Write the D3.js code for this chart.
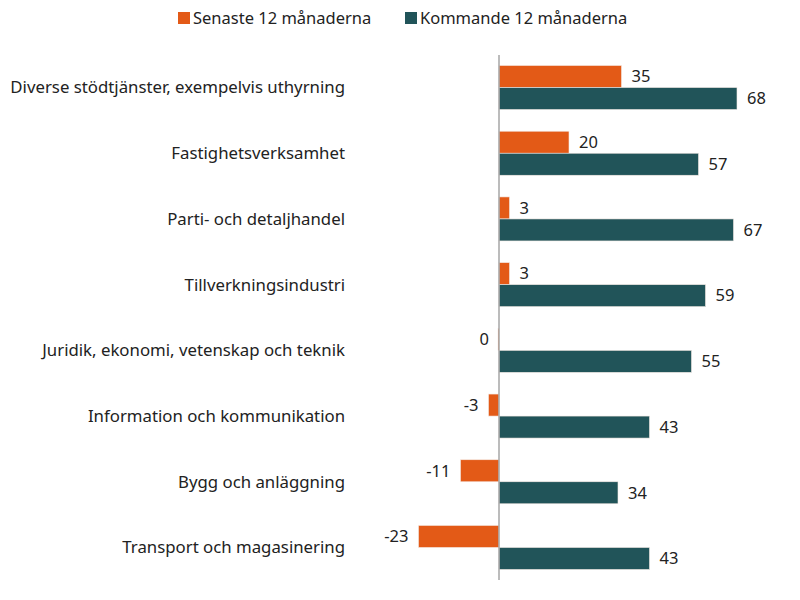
<!DOCTYPE html>
<html>
<head>
<meta charset="utf-8">
<script src="https://cdn.jsdelivr.net/npm/d3@7"></script>
<style>
  body { margin: 0; background: #fff; }
  text { font-family: "Noto Sans", "Open Sans", sans-serif; fill: #222; }
</style>
</head>
<body>
<div id="container"></div>
<script>
var categories = [
  "Diverse stödtjänster, exempelvis uthyrning",
  "Fastighetsverksamhet",
  "Parti- och detaljhandel",
  "Tillverkningsindustri",
  "Juridik, ekonomi, vetenskap och teknik",
  "Information och kommunikation",
  "Bygg och anläggning",
  "Transport och magasinering"
];
var seriesNames = ["Senaste 12 månaderna", "Kommande 12 månaderna"];
var senaste = [35, 20, 3, 3, 0, -3, -11, -23];
var kommande = [68, 57, 67, 59, 55, 43, 34, 43];
var colors = ["#e35a17", "#215459"];

var width = 800, height = 600;

var svg = d3.select("#container")
  .append("svg")
  .attr("width", width)
  .attr("height", height);

// 3.5 px per unit, zero at 499
var x = d3.scaleLinear()
  .domain([-23, 68])
  .range([499 - 23 * 3.5, 499 + 68 * 3.5]);

var y0 = d3.scaleBand()
  .domain(categories)
  .range([55, 580])
  .paddingInner(0.33)
  .paddingOuter(0.16);

var y1 = d3.scaleBand()
  .domain([0, 1])
  .range([0, y0.bandwidth()]);

var rows = categories.map(function(c, i) {
  return { cat: c, vals: [senaste[i], kommande[i]] };
});

var g = svg.selectAll("g.row")
  .data(rows)
  .enter()
  .append("g")
  .attr("class", "row")
  .attr("transform", function(d) { return "translate(0," + y0(d.cat) + ")"; });

g.selectAll("rect")
  .data(function(d) { return d.vals; })
  .enter()
  .append("rect")
  .attr("x", function(d) { return d === 0 ? x(0) - 1 : x(Math.min(0, d)); })
  .attr("y", function(d, i) { return y1(i); })
  .attr("width", function(d) { return Math.max(1, Math.abs(x(d) - x(0))); })
  .attr("height", y1.bandwidth())
  .style("fill", function(d, i) { return colors[i]; })
  .style("stroke", "#f4e9e4")
  .style("stroke-width", 0.6);

g.selectAll("text.val")
  .data(function(d) { return d.vals; })
  .enter()
  .append("text")
  .attr("class", "val")
  .attr("x", function(d) { return d <= 0 ? x(Math.min(0, d)) - 10 : x(d) + 10; })
  .attr("y", function(d, i) { return y1(i) + y1.bandwidth() / 2; })
  .attr("dy", "0.35em")
  .attr("text-anchor", function(d) { return d <= 0 ? "end" : "start"; })
  .style("font-size", "16.5px")
  .text(function(d) { return d; });

// category labels
svg.selectAll("text.cat")
  .data(categories)
  .enter()
  .append("text")
  .attr("class", "cat")
  .attr("x", 345)
  .attr("y", function(d) { return y0(d) + y0.bandwidth() / 2; })
  .attr("dy", "0.35em")
  .attr("text-anchor", "end")
  .style("font-size", "16.8px")
  .text(function(d) { return d; });

// zero line
svg.append("line")
  .attr("x1", x(0)).attr("x2", x(0))
  .attr("y1", 55).attr("y2", 580)
  .style("stroke", "#a6a6a6")
  .style("stroke-width", 1.5);

// legend
var legendX = [178, 405];
var lg = svg.selectAll("g.legend")
  .data(seriesNames)
  .enter()
  .append("g")
  .attr("class", "legend")
  .attr("transform", function(d, i) { return "translate(" + legendX[i] + ",12)"; });

lg.append("rect")
  .attr("width", 12).attr("height", 12)
  .style("fill", function(d, i) { return colors[i]; });

lg.append("text")
  .attr("x", 15)
  .attr("y", 6)
  .attr("dy", "0.35em")
  .style("font-size", "16.5px")
  .text(function(d) { return d; });
</script>
</body>
</html>
